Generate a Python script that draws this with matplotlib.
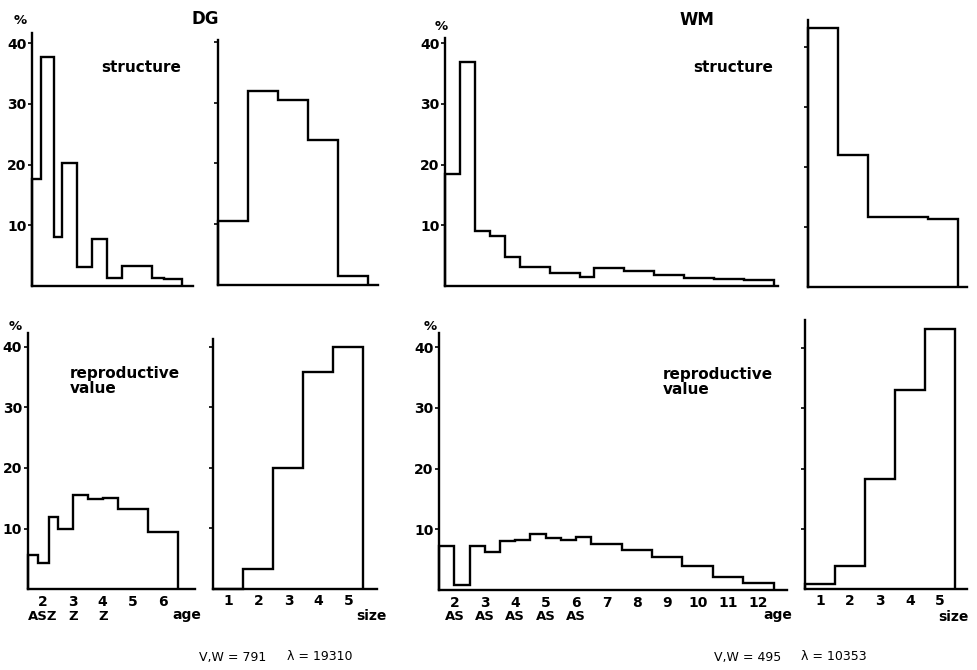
import matplotlib
matplotlib.use("Agg")
import matplotlib.pyplot as plt

# values (percent)
size_edges = [0.5, 1.5, 2.5, 3.5, 4.5, 5.5]

dg_struct_age_edges = [1.5, 1.8, 2.25, 2.5, 3.0, 3.5, 4.0, 4.5, 5.5, 5.9, 6.5]
dg_struct_age = [17.6, 37.7, 8.1, 20.2, 3.2, 7.8, 1.4, 3.3, 1.4, 1.1]
dg_struct_size = [10.5, 31.9, 30.5, 23.8, 1.5]
dg_repro_age_edges = [1.5, 1.83, 2.2, 2.5, 3.0, 3.5, 4.0, 4.5, 5.5, 6.5]
dg_repro_age = [5.6, 4.4, 11.9, 10.0, 15.5, 14.8, 15.0, 13.2, 9.4]
dg_repro_size = [0.0, 3.2, 19.9, 35.9, 40.0]

wm_struct_age_edges = [1.5, 2.0, 2.5, 3.0, 3.5, 4.0, 5.0, 6.0, 6.5, 7.5, 8.5,
                       9.5, 10.5, 11.5, 12.5]
wm_struct_age = [18.4, 36.9, 9.1, 8.2, 4.8, 3.2, 2.1, 1.5, 3.0, 2.4, 1.8, 1.4,
                 1.1, 1.0]
wm_struct_size = [43.2, 21.9, 11.7, 11.7, 11.3]
wm_repro_age_edges = [1.5, 2.0, 2.5, 3.0, 3.5, 4.0, 4.5, 5.0, 5.5, 6.0, 6.5,
                      7.5, 8.5, 9.5, 10.5, 11.5, 12.5]
wm_repro_age = [7.25, 0.8, 7.25, 6.3, 8.1, 8.3, 9.2, 8.5, 8.3, 8.8, 7.5, 6.6,
                5.4, 4.0, 2.2, 1.2]
wm_repro_size = [0.7, 3.8, 18.3, 33.1, 43.2]

y_ticks = [10, 20, 30, 40]
dg_age_ticks = [2, 3, 4, 5, 6]
wm_age_ticks = [2, 3, 4, 5, 6, 7, 8, 9, 10, 11, 12]
size_ticks = [1, 2, 3, 4, 5]
dg_sub = {2: "ASZ", 3: "Z", 4: "Z"}
wm_sub = {2: "AS", 3: "AS", 4: "AS", 5: "AS", 6: "AS"}

W, H = 978, 670
plt.rcParams['font.family'] = ['DejaVu Sans']
plt.rcParams['font.weight'] = 'bold'

fig = plt.figure(figsize=(W / 100, H / 100), dpi=100)
fig.patch.set_facecolor('white')


def ftext(x, y, s, **kw):
    fig.text(x / W, 1 - y / H, s, **kw)


def panel(left, right, top, base, x0, px_x, px_y, edges, vals,
          ylabels=False, xt=None, sub=None):
    ax = fig.add_axes([left / W, 1 - base / H, (right - left) / W, (base - top) / H])
    ax.set_xlim(x0, x0 + (right - left) / px_x)
    ax.set_ylim(0, (base - top) / px_y)
    for s in ['top', 'right']:
        ax.spines[s].set_visible(False)
    for s in ['left', 'bottom']:
        ax.spines[s].set_linewidth(1.7)
    ax.stairs(vals, edges, baseline=0, color='black', lw=1.7, clip_on=False)
    ax.set_yticks(y_ticks)
    ax.tick_params(axis='y', direction='out', length=3, width=1.2, pad=1,
                   labelsize=10)
    if not ylabels:
        ax.set_yticklabels([])
    ax.tick_params(axis='x', length=0, pad=4, labelsize=10)
    if xt is None:
        ax.set_xticks([])
    else:
        ax.set_xticks(xt)
        ax.set_xticklabels([str(t) for t in xt])
    if sub:
        for k, s in sub.items():
            ax.annotate(s, xy=(k, 0), xycoords=('data', 'axes fraction'),
                        xytext=(0, -(617 - base)), textcoords='offset pixels',
                        ha='center', va='center', fontsize=9.5)
    return ax


# DG
panel(32, 193, 33, 286, 1.5, 30, 6.07, dg_struct_age_edges, dg_struct_age,
      ylabels=True)
panel(218, 378, 40, 285, 0.5, 30, 6.08, size_edges, dg_struct_size)
panel(27.7, 195, 333, 589.3, 1.5, 30, 6.07, dg_repro_age_edges, dg_repro_age,
      ylabels=True, xt=dg_age_ticks, sub=dg_sub)
panel(213.5, 376.7, 339, 588.7, 0.5, 30, 6.05, size_edges, dg_repro_size,
      xt=size_ticks)

# WM
panel(445, 778, 38, 286, 1.5, 29.9, 6.07, wm_struct_age_edges, wm_struct_age,
      ylabels=True)
panel(808.3, 966.7, 20, 286.7, 0.5, 30, 6.0, size_edges, wm_struct_size)
panel(439.3, 786.7, 333, 590, 1.5, 30.4, 6.07, wm_repro_age_edges, wm_repro_age,
      ylabels=True, xt=wm_age_ticks, sub=wm_sub)
panel(805, 966.7, 320, 588.7, 0.5, 30, 6.01, size_edges, wm_repro_size,
      xt=size_ticks)

# labels
ftext(205, 19, "DG", ha='center', va='center', fontsize=12)
ftext(697, 20, "WM", ha='center', va='center', fontsize=12)
for x, y in [(20, 21), (15, 326), (441, 26), (430, 326)]:
    ftext(x, y, "%", ha='center', va='center', fontsize=9.5)
ftext(141, 68, "structure", ha='center', va='center', fontsize=11)
ftext(733, 68, "structure", ha='center', va='center', fontsize=11)
ftext(70, 381, "reproductive\nvalue", ha='left', va='center', fontsize=11,
      linespacing=1.0)
ftext(663, 382, "reproductive\nvalue", ha='left', va='center', fontsize=11,
      linespacing=1.0)
ftext(187, 615, "age", ha='center', va='center', fontsize=10)
ftext(371, 616, "size", ha='center', va='center', fontsize=10)
ftext(778, 615, "age", ha='center', va='center', fontsize=10)
ftext(953, 617, "size", ha='center', va='center', fontsize=10)
ftext(233, 657, "V,W = 791", ha='center', va='center', fontsize=9,
      fontweight='normal')
ftext(320, 657, "λ = 19310", ha='center', va='center', fontsize=9,
      fontweight='normal')
ftext(748, 657, "V,W = 495", ha='center', va='center', fontsize=9,
      fontweight='normal')
ftext(834, 657, "λ = 10353", ha='center', va='center', fontsize=9,
      fontweight='normal')

fig.savefig("out.png", dpi=100)
